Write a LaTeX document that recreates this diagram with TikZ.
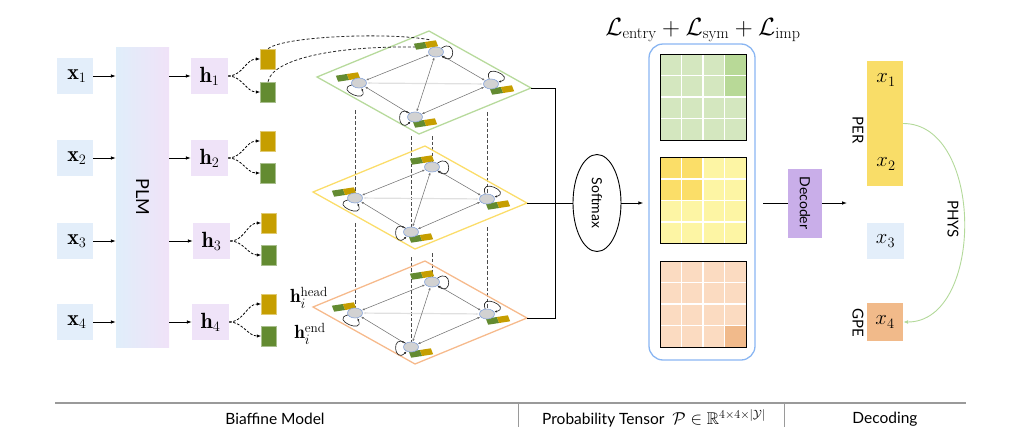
\documentclass[tikz,border=0pt]{standalone}
\usepackage{amsmath,amssymb}
\usepackage{graphicx}
\usepackage{fontspec}
\setsansfont{Lato}
\usetikzlibrary{arrows.meta,shapes.geometric,backgrounds,calc}
\definecolor{xblue}{HTML}{E3EEFA}
\definecolor{hpurp}{HTML}{EFE3F8}
\definecolor{plmL}{HTML}{E0EEFA}
\definecolor{plmR}{HTML}{F0E2F8}
\definecolor{headgold}{HTML}{C69E00}
\definecolor{endgreen}{HTML}{638B31}
\definecolor{lgreen}{HTML}{B7DA9C}
\definecolor{lyellow}{HTML}{FBDD6A}
\definecolor{lorange}{HTML}{F6BA8C}
\definecolor{nodegray}{HTML}{D2D2D2}
\definecolor{nodeblue}{HTML}{8AA6DA}
\definecolor{boxblue}{HTML}{8AB6F2}
\definecolor{decpurp}{HTML}{C9AEE9}
\definecolor{pergold}{HTML}{F9DD68}
\definecolor{gpeorange}{HTML}{F1BA8A}
\definecolor{mgL}{HTML}{D4E7BF}
\definecolor{mgD}{HTML}{B8D997}
\definecolor{myL}{HTML}{FDF5A4}
\definecolor{myD}{HTML}{FBDE68}
\definecolor{moL}{HTML}{FBDBC1}
\definecolor{moD}{HTML}{F1BA8B}
\definecolor{physgreen}{HTML}{B3D99A}
\definecolor{rulegray}{HTML}{9A9A9A}

\newcommand{\hebars}[2]{%
  \begin{scope}[shift={(#1,#2)}]
    \fill[endgreen] (-12.15,1.3) -- ++(11,1.7) -- ++(2.3,-6) -- ++(-11,-1.7) -- cycle;
    \fill[headgold] (-1.15,3) -- ++(11,1.7) -- ++(2.3,-6) -- ++(-11,-1.7) -- cycle;
  \end{scope}}

\newcommand{\drawlayer}[4]{%
  \begin{scope}[shift={(#2,-#3)}]
    \draw[#4, line width=1.3pt, line join=miter] (0,0) coordinate (#1T) -- (102,-57) coordinate (#1R)
      -- (-10,-103) coordinate (#1B) -- (-112,-46) coordinate (#1L) -- cycle;
    \hebars{-3}{-14}\hebars{-81}{-46}\hebars{73}{-59}\hebars{-4}{-92}
    \node[gnode] (#1t) at (7,-21) {};
    \node[gnode] (#1r) at (62,-53) {};
    \node[gnode] (#1b) at (-14,-86) {};
    \node[gnode] (#1l) at (-70,-52) {};
    \draw[hedge] (#1l) -- (#1r);
    \draw[gedge] (#1t) -- (#1l);
    \draw[gedge] (#1t) -- (#1r);
    \draw[gedge] (#1t) -- (#1b);
    \draw[gedge] (#1l) -- (#1b);
    \draw[gedge] (#1r) -- (#1b);
    \draw[selfloop] (#1t) to[out=35,in=-35,min distance=18pt] (#1t);
    \draw[selfloop] (#1l) to[out=195,in=-65,min distance=18pt] (#1l);
    \draw[selfloop] (#1r) to[out=110,in=15,min distance=18pt] (#1r);
    \draw[selfloop] (#1b) to[out=145,in=225,min distance=18pt] (#1b);
    \coordinate (#1ha) at (2,-9);
    \coordinate (#1ea) at (-14,-16);
  \end{scope}}

\newcommand{\probmat}[5]{%
  \fill[#3] (#1,-#2) rectangle ++(86,-86);
  \foreach \r/\c in {#5} {\fill[#4] ({#1+\c*21.5},{-#2-\r*21.5}) rectangle ++(21.5,-21.5);}
  \foreach \k in {1,2,3} {
    \draw[white, line width=1.3pt] ({#1+\k*21.5},-#2) -- ++(0,-86);
    \draw[white, line width=1.3pt] (#1,{-#2-\k*21.5}) -- ++(86,0);}
  \draw[black, line width=1pt] (#1,-#2) rectangle ++(86,-86);}

\begin{document}
\begin{tikzpicture}[x=1pt,y=1pt,
  bigmath/.style={font=\fontsize{22}{26}\selectfont},
  xbox/.style={fill=xblue, minimum width=36pt, minimum height=36pt, inner sep=0pt, bigmath},
  hbox/.style={fill=hpurp, minimum width=37pt, minimum height=36pt, inner sep=0pt, bigmath},
  hsq/.style={fill=headgold, draw=headgold!55!white, line width=0.5pt, minimum width=15pt, minimum height=20pt, inner sep=0pt},
  esq/.style={fill=endgreen, draw=endgreen!55!white, line width=0.5pt, minimum width=15pt, minimum height=20pt, inner sep=0pt},
  arr/.style={-{Latex[length=5pt,width=3.6pt]}, line width=0.9pt},
  darr/.style={dash pattern=on 2.5pt off 1.6pt, -{Latex[length=4.5pt,width=3.4pt]}, line width=0.8pt},
  dcurve/.style={dash pattern=on 3pt off 2pt, line width=0.8pt, black!85},
  vdash/.style={dash pattern=on 3.5pt off 2pt, line width=0.9pt, black!70},
  gnode/.style={ellipse, fill=nodegray, draw=nodeblue, line width=0.6pt, minimum width=15pt, minimum height=10pt, inner sep=0pt},
  gedge/.style={{Latex[length=3pt,width=2.2pt]}-{Latex[length=3pt,width=2.2pt]}, draw=black!55, line width=0.55pt},
  hedge/.style={{Latex[length=3pt,width=2.2pt]}-{Latex[length=3pt,width=2.2pt]}, draw=black!12, line width=1.2pt},
  selfloop/.style={-{Latex[length=2.6pt,width=2.2pt]}, draw=black!85, line width=0.65pt},
  sftext/.style={font=\sffamily\fontsize{15.5}{18}\selectfont},
  bline/.style={line width=0.9pt}
]
\useasboundingbox (0,0) rectangle (1026,-442);

% inputs
\node[xbox] (x1) at (75,-76) {\,$\mathbf{x}_1$};
\node[xbox] (x2) at (75,-158) {\,$\mathbf{x}_2$};
\node[xbox] (x3) at (75,-241) {\,$\mathbf{x}_3$};
\node[xbox] (x4) at (75,-322) {\,$\mathbf{x}_4$};

% PLM
\node[minimum width=53pt, minimum height=300pt, inner sep=0pt, left color=plmL, right color=plmR] (plm) at (142.5,-197)
  {\rotatebox{-90}{\sffamily\fontsize{18}{20}\selectfont PLM}};

% hidden states
\node[hbox] (h1) at (209.5,-76) {$\mathbf{h}_1$};
\node[hbox] (h2) at (209.5,-158) {$\mathbf{h}_2$};
\node[hbox] (h3) at (211.5,-241) {$\mathbf{h}_3$};
\node[hbox] (h4) at (210.5,-322) {$\mathbf{h}_4$};

\foreach \i in {1,2,3,4} {
  \draw[arr] (x\i.east) -- (x\i.east -| plm.west);
  \draw[arr] (plm.east |- h\i) -- (h\i.west);
}

% head / end
\node[hsq] (hd1) at (268,-59) {};
\node[esq] (en1) at (268,-92) {};
\node[hsq] (hd2) at (268,-141) {};
\node[esq] (en2) at (268,-173) {};
\node[hsq] (hd3) at (269,-223) {};
\node[esq] (en3) at (269,-255) {};
\node[hsq] (hd4) at (269,-304) {};
\node[esq] (en4) at (269,-336) {};
\foreach \i in {1,2,3,4} {
  \draw[darr] (h\i.east) to[out=0,in=180] (hd\i.west);
  \draw[darr] (h\i.east) to[out=0,in=180] (en\i.west);
}
\node[font=\fontsize{19}{22}\selectfont, inner sep=0pt] (lhead) at (309,-298) {$\mathbf{h}_i^{\text{head}}$};
\node[font=\fontsize{19}{22}\selectfont, inner sep=0pt] (lend) at (310,-334) {$\mathbf{h}_i^{\text{end}}$};

% biaffine layers
\drawlayer{g}{429}{31}{lgreen}
\drawlayer{y}{425}{146}{lyellow}
\drawlayer{o}{425}{261}{lorange}

\draw[dcurve] (hd1.north) .. controls (284,-36) and (390,-32) .. (gha);
\draw[dcurve] (en1.north) .. controls (272,-60) and (330,-46) .. (gea);

\begin{scope}[on background layer]
  \draw[vdash] (yl |- 0,-110) -- (yl);
  \draw[vdash] (ol |- 0,-223) -- (ol);
  \draw[vdash] (yr |- 0,-112) -- (yr);
  \draw[vdash] (or |- 0,-227) -- (or);
  \draw[vdash] (yb |- 0,-136) -- (yb);
  \draw[vdash] (ob |- 0,-257) -- (ob);
  \draw[vdash] (yt |- 0,-136) -- (yt);
  \draw[vdash] (ot |- 0,-253) -- (ot);
\end{scope}

% softmax
\node[ellipse, draw, line width=0.9pt, minimum width=48pt, minimum height=97pt, inner sep=0pt] (sm) at (597,-203)
  {\rotatebox{-90}{\sffamily\fontsize{14}{16}\selectfont Softmax}};
\coordinate (bx) at (555,0);
\draw[bline] (gR) -- (gR -| bx) -- (oR -| bx) -- (oR);
\draw[bline] (yR) -- (yR -| sm.west);

% probability tensor
\node[draw=boxblue, line width=1.3pt, rounded corners=14pt, minimum width=106pt, minimum height=316pt, inner sep=0pt] (pbox) at (702,-202) {};
\draw[arr] (sm.east) -- ([xshift=-5pt]sm.east -| pbox.west);
\node[font=\fontsize{23}{27}\selectfont] (loss) at (703,-30) {$\mathcal{L}_{\text{entry}}+\mathcal{L}_{\text{sym}}+\mathcal{L}_{\text{imp}}$};
\probmat{660}{54}{mgL}{mgD}{0/3,1/3}
\probmat{660}{157.5}{myL}{myD}{0/0,0/1,1/0,1/1}
\probmat{660}{261}{moL}{moD}{3/3}

% decoder
\node[fill=decpurp, minimum width=34pt, minimum height=69pt, inner sep=0pt] (dec) at (805,-203)
  {\rotatebox{-90}{\sffamily\fontsize{14}{16}\selectfont Decoder}};
\coordinate (decin) at (763,-203);
\coordinate (decout) at (847,-203);
\draw[bline] (decin) -- (dec.west);
\draw[arr] (dec.east) -- (decout);

% entities
\node[fill=pergold, minimum width=36pt, minimum height=125pt, inner sep=0pt] (per) at (885,-123.5) {};
\node[bigmath] (e1) at (886,-80) {$x_1$};
\node[bigmath] (e2) at (886,-164) {$x_2$};
\node[fill=xblue, minimum width=37pt, minimum height=36pt, inner sep=0pt, bigmath] (e3) at (885.5,-241) {$x_3$};
\node[fill=gpeorange, minimum width=36pt, minimum height=38pt, inner sep=0pt, bigmath] (e4) at (885,-322) {$x_4$};
\node (lper) at (858,-130) {\rotatebox{-90}{\sffamily\fontsize{15}{17}\selectfont PER}};
\node (lgpe) at (858,-323) {\rotatebox{-90}{\sffamily\fontsize{15}{17}\selectfont GPE}};
\draw[physgreen, line width=0.9pt, -{Latex[length=5pt,width=4pt]}] (per.east) to[out=0,in=0,looseness=1.05] (e4.east);
\node (lphys) at (953,-219) {\rotatebox{-90}{\sffamily\fontsize{15}{17}\selectfont PHYS}};

% bottom rule
\draw[rulegray, line width=1.3pt] (55,-403) -- (966,-403);
\draw[rulegray, line width=1pt] (518,-403) -- (518,-427);
\draw[rulegray, line width=1pt] (784,-403) -- (784,-427);
\node[sftext] (t1) at (275,-419) {Biaffine Model};
\node[sftext] (t2) at (654,-418) {Probability Tensor\ \ \fontsize{17}{20}\selectfont$\mathcal{P}\in\mathbb{R}^{4\times 4\times|\mathcal{Y}|}$};
\node[sftext] (t3) at (885,-419) {Decoding};
\end{tikzpicture}
\end{document}
